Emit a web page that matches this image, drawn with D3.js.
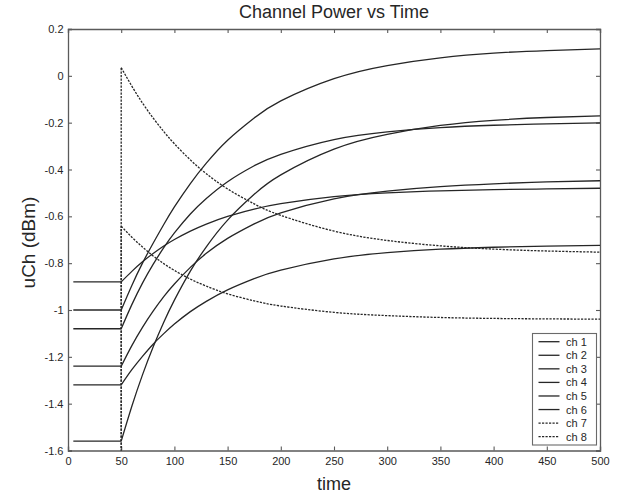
<!DOCTYPE html>
<html>
<head>
<meta charset="utf-8">
<script src="https://cdn.jsdelivr.net/npm/d3@7"></script>
<style>
  html, body { margin: 0; padding: 0; background: #fff; }
  svg { display: block; font-family: "Liberation Sans", Arial, Helvetica, sans-serif; }
</style>
</head>
<body>
<svg id="chart" width="635" height="498"></svg>
<script>
// ---------------- data ----------------
const title = "Channel Power vs Time";
const xLabel = "time";
const yLabel = "uCh (dBm)";
const xTicks = [0, 50, 100, 150, 200, 250, 300, 350, 400, 450, 500];
const yTicks = [0.2, 0, -0.2, -0.4, -0.6, -0.8, -1, -1.2, -1.4, -1.6];

const tStart = 5;        // first sample time
const tSwitch = 50;      // event time
const offLevel = -1.7;   // dashed channels are off (below axis) before the event

const times = [50, 60, 70, 80, 90, 100, 115, 130, 150, 175, 200, 250, 300, 350, 400, 450, 500];

const ch1 = [-1.00, -0.895, -0.80, -0.715, -0.635, -0.56, -0.46, -0.373, -0.275, -0.18, -0.107, -0.012, 0.044, 0.077, 0.097, 0.108, 0.115];
const ch2 = [-1.08, -0.977, -0.885, -0.805, -0.734, -0.671, -0.590, -0.524, -0.452, -0.384, -0.335, -0.272, -0.239, -0.221, -0.211, -0.205, -0.201];
const ch3 = [-1.56, -1.411, -1.277, -1.158, -1.052, -0.958, -0.834, -0.730, -0.616, -0.506, -0.423, -0.313, -0.250, -0.212, -0.190, -0.178, -0.171];
const ch4 = [-0.88, -0.835, -0.794, -0.759, -0.727, -0.699, -0.663, -0.633, -0.600, -0.569, -0.546, -0.516, -0.500, -0.491, -0.486, -0.483, -0.480];
const ch5 = [-1.24, -1.152, -1.074, -1.005, -0.943, -0.889, -0.818, -0.758, -0.694, -0.632, -0.585, -0.525, -0.492, -0.473, -0.461, -0.453, -0.448];
const ch6 = [-1.32, -1.255, -1.198, -1.146, -1.101, -1.060, -1.007, -0.963, -0.914, -0.866, -0.830, -0.782, -0.755, -0.740, -0.732, -0.727, -0.724];
const ch7 = [0.035, -0.044, -0.116, -0.180, -0.238, -0.290, -0.359, -0.418, -0.483, -0.547, -0.596, -0.663, -0.703, -0.726, -0.740, -0.748, -0.753];
const ch8 = [-0.642, -0.689, -0.731, -0.769, -0.802, -0.831, -0.868, -0.898, -0.931, -0.961, -0.983, -1.010, -1.024, -1.032, -1.036, -1.038, -1.039];

const seriesNames = ["ch 1", "ch 2", "ch 3", "ch 4", "ch 5", "ch 6", "ch 7", "ch 8"];
const seriesValues = [ch1, ch2, ch3, ch4, ch5, ch6, ch7, ch8];
const seriesDashed = [false, false, false, false, false, false, true, true];

// ---------------- layout ----------------
const svg = d3.select("#chart");
const X0 = 68, X1 = 600, Y0 = 29, Y1 = 450.5;
const x = d3.scaleLinear().domain([0, 500]).range([X0, X1]);
const y = d3.scaleLinear().domain([-1.6, 0.2]).range([Y1, Y0]);

const ink = "#262626";
const frame = "#5a5a5a";

svg.append("defs").append("clipPath").attr("id", "clip")
  .append("rect").attr("x", X0).attr("y", Y0).attr("width", X1 - X0).attr("height", Y1 - Y0);

// ---------------- axes (inward ticks, boxed) ----------------
const fmtY = d => d === 0 ? "0" : String(+d.toFixed(1));

const gB = svg.append("g").attr("transform", `translate(0,${Y1})`)
  .call(d3.axisBottom(x).tickValues(xTicks).tickSize(-4).tickPadding(6.5).tickFormat(d3.format("d")));
const gT = svg.append("g").attr("transform", `translate(0,${Y0})`)
  .call(d3.axisTop(x).tickValues(xTicks).tickSize(-4).tickFormat(""));
const gL = svg.append("g").attr("transform", `translate(${X0},0)`)
  .call(d3.axisLeft(y).tickValues(yTicks).tickSize(-4).tickPadding(4.5).tickFormat(fmtY));
const gR = svg.append("g").attr("transform", `translate(${X1},0)`)
  .call(d3.axisRight(y).tickValues(yTicks).tickSize(-4).tickFormat(""));

[gB, gT, gL, gR].forEach(g => {
  g.select(".domain").attr("stroke", frame).attr("stroke-width", 1.3);
  g.selectAll(".tick line").attr("stroke", frame).attr("stroke-width", 1.1);
  g.selectAll(".tick text").attr("fill", ink).style("font-size", "11px")
    .style("font-family", "'Liberation Sans', Arial, sans-serif");
});

// ---------------- series ----------------
const plot = svg.append("g").attr("clip-path", "url(#clip)");
const lineLin = d3.line().x(d => x(d[0])).y(d => y(d[1]));
const lineCurve = d3.line().x(d => x(d[0])).y(d => y(d[1])).curve(d3.curveNatural);

seriesValues.forEach((vals, i) => {
  const pre = seriesDashed[i] ? offLevel : vals[0];
  const dash = seriesDashed[i] ? "2.2,1.3" : null;
  // flat part before the event plus the jump at the event
  plot.append("path")
    .attr("d", lineLin([[tStart, pre], [tSwitch, pre], [tSwitch, vals[0]]]))
    .attr("fill", "none").attr("stroke", ink).attr("stroke-width", 1.3)
    .attr("stroke-dasharray", dash);
  // transient after the event
  plot.append("path")
    .attr("d", lineCurve(times.map((t, k) => [t, vals[k]])))
    .attr("fill", "none").attr("stroke", ink).attr("stroke-width", 1.3)
    .attr("stroke-dasharray", dash);
});

// ---------------- text ----------------
svg.append("text").attr("x", (X0 + X1) / 2).attr("y", 17.5)
  .attr("text-anchor", "middle").attr("fill", ink).style("font-size", "18px").text(title);
svg.append("text").attr("x", (X0 + X1) / 2).attr("y", 490)
  .attr("text-anchor", "middle").attr("fill", ink).style("font-size", "18px").text(xLabel);
svg.append("text").attr("transform", "translate(35,242.5) rotate(-90)")
  .attr("text-anchor", "middle").attr("fill", ink).style("font-size", "19px").text(yLabel);

// ---------------- legend ----------------
const lg = svg.append("g");
lg.append("rect").attr("x", 532.5).attr("y", 333.5).attr("width", 64).attr("height", 111.5)
  .attr("fill", "#fff").attr("stroke", "#6a6a6a").attr("stroke-width", 1.1);
seriesNames.forEach((name, i) => {
  const cy = 341.7 + i * 13.57;
  lg.append("line").attr("x1", 538.5).attr("x2", 559.5).attr("y1", cy).attr("y2", cy)
    .attr("stroke", ink).attr("stroke-width", 1.3)
    .attr("stroke-dasharray", seriesDashed[i] ? "2.2,1.3" : null);
  lg.append("text").attr("x", 566).attr("y", cy).attr("dy", "0.36em")
    .attr("fill", ink).style("font-size", "11px").text(name);
});
</script>
</body>
</html>
